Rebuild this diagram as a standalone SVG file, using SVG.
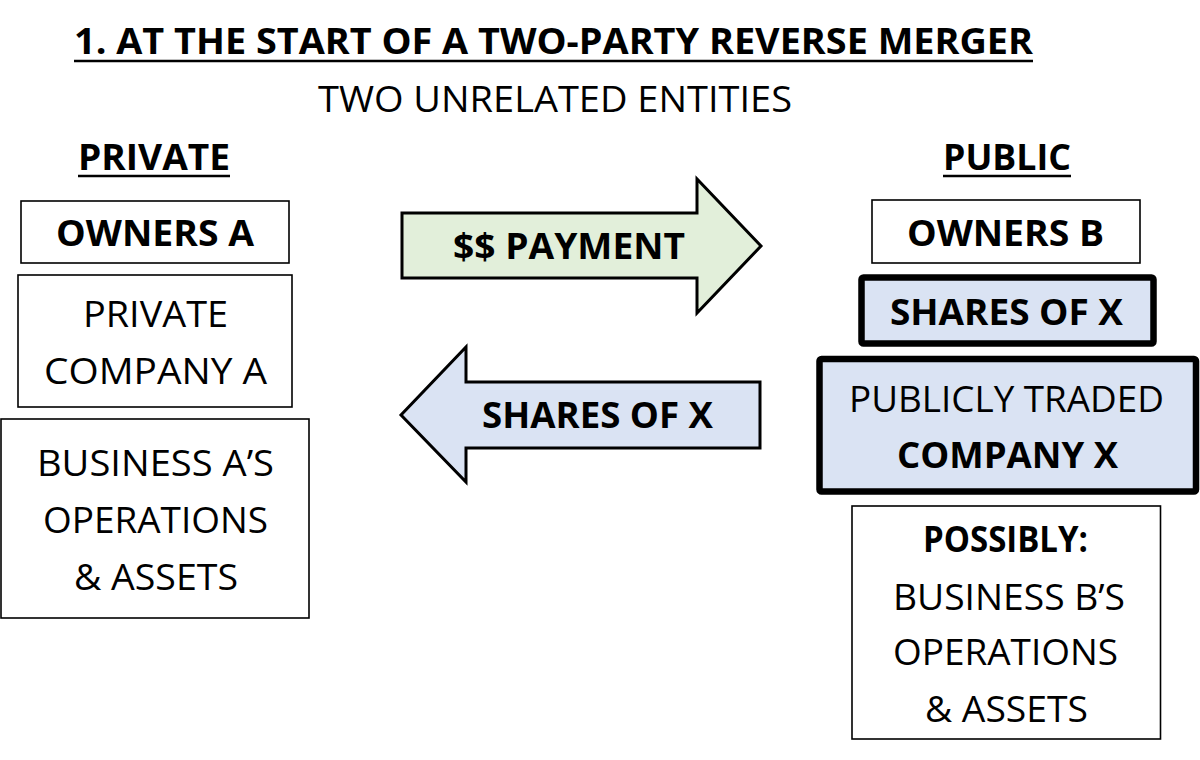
<svg xmlns="http://www.w3.org/2000/svg" width="1200" height="760" viewBox="0 0 1200 760">
<style>
text{font-family:"Open Sans","Liberation Sans",sans-serif;font-size:36px;fill:#000;text-anchor:middle}
.b{font-weight:bold}
.thin{fill:#fff;stroke:#000;stroke-width:1.6}
.thick{fill:#dae3f3;stroke:#000;stroke-width:6.5}
.ul{stroke:#000;stroke-width:2.5}
</style>
<rect width="1200" height="760" fill="#fff"/>
<g id="title">
<text class="b" x="553.5" y="54" textLength="959" lengthAdjust="spacingAndGlyphs">1. AT THE START OF A TWO-PARTY REVERSE MERGER</text>
<line class="ul" x1="74" y1="61" x2="1033" y2="61"/>
<text x="555" y="112" textLength="474" lengthAdjust="spacingAndGlyphs">TWO UNRELATED ENTITIES</text>
</g>
<g id="private-heading">
<text class="b" x="154" y="170" textLength="152" lengthAdjust="spacingAndGlyphs">PRIVATE</text>
<line class="ul" x1="78" y1="176" x2="230" y2="176"/>
</g>
<g id="public-heading">
<text class="b" x="1007" y="170" textLength="128" lengthAdjust="spacingAndGlyphs">PUBLIC</text>
<line class="ul" x1="943" y1="176" x2="1071" y2="176"/>
</g>
<g id="owners-a">
<rect class="thin" x="21" y="201" width="268" height="62"/>
<text class="b" x="155" y="246" textLength="198" lengthAdjust="spacingAndGlyphs">OWNERS A</text>
</g>
<g id="private-company-a">
<rect class="thin" x="18" y="275" width="274" height="132"/>
<text x="155.5" y="327" textLength="145" lengthAdjust="spacingAndGlyphs">PRIVATE</text>
<text x="155.5" y="384" textLength="223" lengthAdjust="spacingAndGlyphs">COMPANY A</text>
</g>
<g id="business-a">
<rect class="thin" x="1" y="419" width="308" height="199"/>
<text x="155.5" y="476" textLength="237" lengthAdjust="spacingAndGlyphs">BUSINESS A’S</text>
<text x="155.5" y="533" textLength="225" lengthAdjust="spacingAndGlyphs">OPERATIONS</text>
<text x="156" y="590" textLength="164" lengthAdjust="spacingAndGlyphs">&amp; ASSETS</text>
</g>
<g id="connectors">
<g id="payment-arrow">
<polygon points="402,213 697,213 697,179 761,246 697,313 697,278 402,278" fill="#e2efda" stroke="#000" stroke-width="3" stroke-linejoin="miter"/>
<text class="b" x="569" y="259" textLength="232" lengthAdjust="spacingAndGlyphs">$$ PAYMENT</text>
</g>
<g id="shares-arrow">
<polygon points="760,382 466,382 466,347 401,415 466,482 466,448 760,448" fill="#dae3f3" stroke="#000" stroke-width="3" stroke-linejoin="miter"/>
<text class="b" x="597.5" y="428" textLength="231" lengthAdjust="spacingAndGlyphs">SHARES OF X</text>
</g>
</g>
<g id="owners-b">
<rect class="thin" x="872" y="200" width="268" height="63"/>
<text class="b" x="1005.5" y="246" textLength="197" lengthAdjust="spacingAndGlyphs">OWNERS B</text>
</g>
<g id="shares-of-x">
<rect class="thick" x="861.5" y="277.5" width="292" height="66" rx="2"/>
<text class="b" x="1006.5" y="325" textLength="233" lengthAdjust="spacingAndGlyphs">SHARES OF X</text>
</g>
<g id="company-x">
<rect class="thick" x="819.5" y="359" width="376.5" height="132.5" rx="2"/>
<text x="1006.5" y="412" textLength="315" lengthAdjust="spacingAndGlyphs">PUBLICLY TRADED</text>
<text class="b" x="1007.5" y="468" textLength="221" lengthAdjust="spacingAndGlyphs">COMPANY X</text>
</g>
<g id="business-b">
<rect class="thin" x="852" y="506" width="308.5" height="233"/>
<text class="b" x="1005.5" y="552" textLength="165" lengthAdjust="spacingAndGlyphs">POSSIBLY:</text>
<text x="1009" y="610" textLength="232" lengthAdjust="spacingAndGlyphs">BUSINESS B’S</text>
<text x="1005.5" y="665" textLength="225" lengthAdjust="spacingAndGlyphs">OPERATIONS</text>
<text x="1006.5" y="722" textLength="163" lengthAdjust="spacingAndGlyphs">&amp; ASSETS</text>
</g>
</svg>
